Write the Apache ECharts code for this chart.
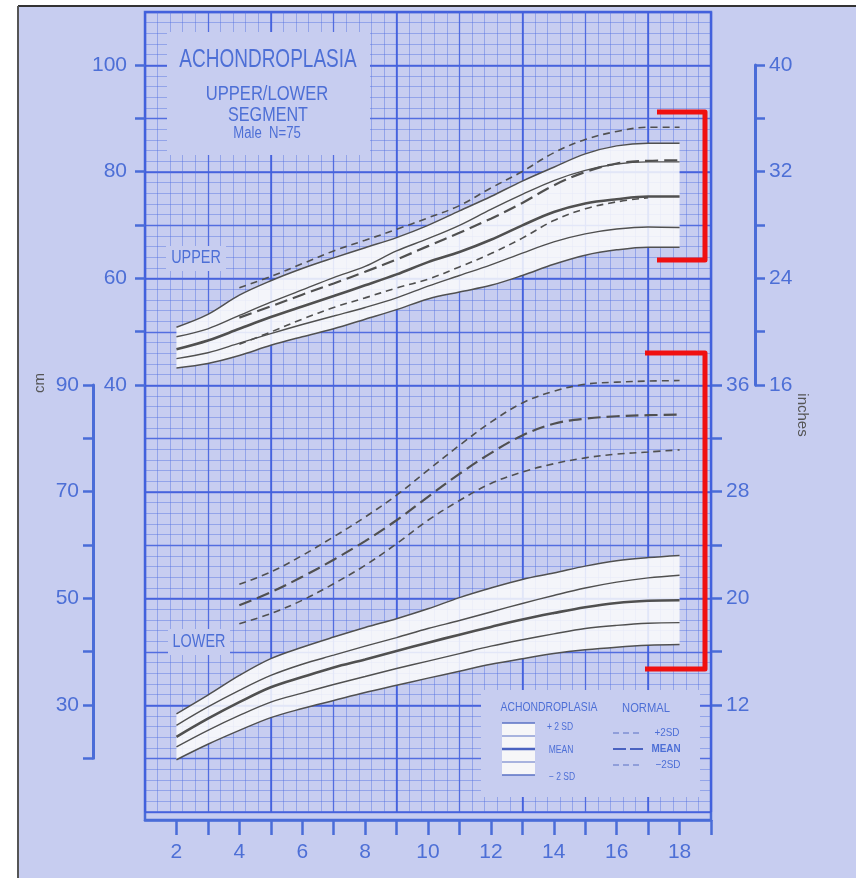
<!DOCTYPE html>
<html><head><meta charset="utf-8">
<script src="https://cdn.jsdelivr.net/npm/echarts@6/dist/echarts.min.js"></script>
<style>html,body{margin:0;padding:0;background:#fff;}#c{width:856px;height:878px;}</style>
</head><body><div id="c"></div>
<script>
// ---------------- DATA ----------------
const ages = [2,3,4,5,6,7,8,9,10,11,12,13,14,15,16,17,18];
// Upper segment (cm, left upper scale)
const upAchP2 = [50.9,53.3,56.9,59.6,61.9,63.9,65.8,67.7,70.0,72.7,75.4,78.3,80.9,83.4,84.9,85.4,85.4];
const upAchP1 = [49.1,50.6,53.1,55.6,57.9,60.2,62.3,65.2,67.5,70.0,73.0,75.8,78.4,80.3,81.5,81.9,81.9];
const upAchM  = [46.75,48.4,50.6,52.8,54.8,56.75,58.75,60.8,63.1,65.0,67.3,70.0,72.5,74.1,74.9,75.4,75.4];
const upAchM1 = [45.0,46.1,47.9,49.7,51.4,53.0,54.6,56.4,58.6,60.6,62.6,64.8,66.9,68.4,69.3,69.7,69.6];
const upAchM2 = [43.25,44.1,45.6,47.5,49.1,50.6,52.4,54.2,56.2,57.5,58.75,60.6,62.7,64.4,65.4,65.9,65.9];
const upNorP2 = [null,null,58.3,60.4,62.8,65.2,67.2,69.25,71.4,73.7,77.0,80.1,83.6,86.1,87.6,88.4,88.4];
const upNorM  = [null,null,52.7,54.8,57.0,59.1,61.3,63.6,66.1,68.6,71.25,74.2,77.5,80.0,81.6,82.1,82.2];
const upNorM2 = [null,null,47.7,50.0,52.4,54.6,56.4,58.25,59.9,62.2,64.7,67.6,70.9,73.1,74.4,75.2,null];
// Lower segment (cm, left lower scale)
const lowAchP2 = [28.4,31.9,35.6,38.75,40.9,42.8,44.6,46.25,48.1,50.2,52.0,53.6,54.8,56.1,57.1,57.7,58.1];
const lowAchP1 = [26.25,29.7,32.8,35.6,37.7,39.4,41.1,42.7,44.4,45.9,47.5,49.1,50.6,52.0,53.1,53.9,54.4];
const lowAchM  = [24.1,27.5,30.6,33.4,35.3,37.1,38.6,40.2,41.75,43.25,44.7,46.1,47.3,48.4,49.2,49.6,49.7];
const lowAchM1 = [22.2,25.3,28.1,30.6,32.3,33.9,35.4,36.9,38.3,39.7,41.1,42.3,43.4,44.4,45.0,45.4,45.5];
const lowAchM2 = [19.8,22.7,25.3,27.7,29.4,30.9,32.4,33.75,35.1,36.4,37.7,38.75,39.7,40.4,40.9,41.25,41.4];
const lowNorP2 = [null,null,52.7,55.0,58.1,61.6,65.3,69.4,74.1,78.75,83.1,86.7,88.9,90.2,90.6,90.8,90.9];
const lowNorM  = [null,null,48.75,51.2,54.1,57.3,60.8,64.7,69.1,73.4,77.3,80.6,82.8,83.75,84.2,84.4,84.5];
const lowNorM2 = [null,null,45.3,47.2,49.7,52.8,56.25,60.3,64.7,68.4,71.6,73.75,75.3,76.4,77.1,77.5,77.9];
// Tick labels / tick positions
const xLabels = [2,4,6,8,10,12,14,16,18];
const xTicks = [2,3,4,5,6,7,8,9,10,11,12,13,14,15,16,17,18,19];
const cmUpperLabels = [100,80,60,40];
const cmLowerLabels = [90,70,50,30];
const inUpperLabels = [40,32,24,16];
const inLowerLabels = [36,28,20,12];

// ---------------- STYLE ----------------
const BG = '#c7cdf0';
const BLUE = '#4a6cd8';
const TXT = '#4d6fd6';
const MINOR = 'rgba(80,110,225,0.55)';
const MED = 'rgba(70,100,222,0.85)';
const MAJ = 'rgba(65,95,220,0.95)';
const CURVE = '#505050';
const FONT = "'Liberation Sans','DejaVu Sans',sans-serif";
const SMOOTH = 0.35;

const pairs = arr => ages.map((a,i)=>[a,arr[i]]).filter(p=>p[1]!=null);

function solid(name, arr, yi, w){
  return {name, type:'line', xAxisIndex:0, yAxisIndex:yi, data:pairs(arr), smooth:SMOOTH,
    symbol:'none', silent:true, z:5, lineStyle:{color:CURVE, width:w}};
}
function dashed(name, arr, yi, w, dash){
  return {name, type:'line', xAxisIndex:0, yAxisIndex:yi, data:pairs(arr), smooth:SMOOTH,
    symbol:'none', silent:true, z:6, lineStyle:{color:CURVE, width:w, type:dash}};
}
// white +/-2SD band: stacked on the value dimension (value first, age second)
function band(stack, lo, hi, yi){
  return [
    {type:'line', xAxisIndex:0, yAxisIndex:yi, stack, encode:{x:1, y:0},
      data:ages.map((a,i)=>[lo[i], a]), smooth:SMOOTH, symbol:'none', silent:true, z:3,
      lineStyle:{opacity:0}},
    {type:'line', xAxisIndex:0, yAxisIndex:yi, stack, encode:{x:1, y:0},
      data:ages.map((a,i)=>[hi[i]-lo[i], a]), smooth:SMOOTH, symbol:'none', silent:true, z:3,
      lineStyle:{opacity:0}, areaStyle:{color:'#fbfbfb', opacity:0.86}}
  ];
}

const gridBox = {left:145, top:12, width:566, height:800};
const hidAx = (g)=>({gridIndex:g, type:'value', show:false, min:0, max:1});

function lineAxisX(g, interval, style){
  return {gridIndex:g, type:'value', min:0, max:18, interval, axisLine:{show:false, onZero:false}, axisTick:{show:false},
    axisLabel:{show:false}, splitLine:{show:true, lineStyle:style}};
}
function lineAxisY(g, interval, style){
  return {gridIndex:g, type:'value', min:-40, max:110, interval, axisLine:{show:false, onZero:false}, axisTick:{show:false},
    axisLabel:{show:false}, splitLine:{show:true, lineStyle:style}};
}
function tickAxis(g, min, max, interval, pos, labels, margin, showLine){
  return {gridIndex:g, type:'value', min, max, interval, position:pos,
    axisLine:{show:showLine, onZero:false, lineStyle:{color:BLUE, width:3}},
    axisTick:{show:true, length:10, lineStyle:{color:BLUE, width:2.5}},
    axisLabel:{show:true, margin, color:TXT, fontSize:21, fontFamily:FONT,
      formatter:v=>labels.includes(v)?String(v):''},
    splitLine:{show:false}};
}
function label(x, y, text, size, sx, extra){
  return Object.assign({type:'text', z:9, x, y, scaleX:sx,
    style:{text, fill:TXT, font:size+'px '+FONT, align:'center', verticalAlign:'middle'}}, extra||{});
}

const option = {
  backgroundColor: BG,
  animation:false,
  grid:[
    {left:145, top:12, width:566, height:808, show:true, borderColor:BLUE, borderWidth:2.5, backgroundColor:'transparent'},
    Object.assign({}, gridBox),
    Object.assign({}, gridBox),
    Object.assign({}, gridBox),
    {left:145, top:65, width:10, height:320},
    {left:93, top:385, width:10, height:373.33},
    {left:745, top:65, width:10, height:320},
    {left:702, top:385, width:10, height:320}
  ],
  xAxis:[
    {gridIndex:0, type:'value', min:1, max:19, interval:1, position:'bottom',
      axisLine:{show:true, onZero:false, lineStyle:{color:BLUE, width:2.5}},
      axisTick:{show:true, length:15, customValues:xTicks, lineStyle:{color:BLUE, width:2.5}},
      axisLabel:{show:true, margin:22, color:TXT, fontSize:21, fontFamily:FONT,
        formatter:v=>xLabels.includes(v)?String(v):''},
      splitLine:{show:false}},
    lineAxisX(1, 0.4, {color:MINOR, width:0.8}),
    lineAxisX(2, 2, {color:MED, width:1.3}),
    lineAxisX(3, 4, {color:MAJ, width:1.6}),
    hidAx(4), hidAx(5), hidAx(6), hidAx(7)
  ],
  yAxis:[
    {gridIndex:0, type:'value', min:-41.5, max:110, show:false},
    {gridIndex:0, type:'value', min:8.5, max:160, show:false},
    lineAxisY(1, 2, {color:MINOR, width:0.8}),
    lineAxisY(2, 10, {color:MED, width:1.3}),
    lineAxisY(3, 20, {color:MAJ, width:1.6}),
    tickAxis(4, 40, 100, 10, 'left', cmUpperLabels, 18, false),
    tickAxis(5, 20, 90, 10, 'left', cmLowerLabels, 14, true),
    tickAxis(6, 16, 40, 4, 'right', inUpperLabels, 14, true),
    tickAxis(7, 12, 36, 4, 'right', inLowerLabels, 14, false)
  ],
  series:[
    ...band('ub', upAchM2, upAchP2, 0),
    ...band('lb', lowAchM2, lowAchP2, 1),
    solid('Upper +2SD', upAchP2, 0, 1.5),
    solid('Upper +1SD', upAchP1, 0, 1.4),
    solid('Upper mean', upAchM, 0, 2.6),
    solid('Upper -1SD', upAchM1, 0, 1.4),
    solid('Upper -2SD', upAchM2, 0, 1.5),
    dashed('Upper normal +2SD', upNorP2, 0, 1.6, [7,5]),
    dashed('Upper normal mean', upNorM, 0, 2.2, [13,6]),
    dashed('Upper normal -2SD', upNorM2, 0, 1.6, [7,5]),
    solid('Lower +2SD', lowAchP2, 1, 1.5),
    solid('Lower +1SD', lowAchP1, 1, 1.4),
    solid('Lower mean', lowAchM, 1, 2.6),
    solid('Lower -1SD', lowAchM1, 1, 1.4),
    solid('Lower -2SD', lowAchM2, 1, 1.5),
    dashed('Lower normal +2SD', lowNorP2, 1, 1.6, [7,5]),
    dashed('Lower normal mean', lowNorM, 1, 2.2, [13,6]),
    dashed('Lower normal -2SD', lowNorM2, 1, 1.6, [7,5])
  ],
  graphic:[
    // paper frame
    {type:'rect', z:20, shape:{x:0,y:0,width:18,height:878}, style:{fill:'#fff'}},
    {type:'rect', z:20, shape:{x:0,y:0,width:856,height:6}, style:{fill:'#fff'}},
    {type:'line', z:21, shape:{x1:18,y1:6,x2:856,y2:6}, style:{stroke:'#333', lineWidth:2}},
    {type:'line', z:21, shape:{x1:18,y1:6,x2:18,y2:878}, style:{stroke:'#555', lineWidth:2}},
    // title box
    {type:'rect', z:8, shape:{x:167,y:32,width:203,height:123}, style:{fill:BG}},
    label(268, 60, 'ACHONDROPLASIA', 25, 0.76),
    label(267, 94, 'UPPER/LOWER', 21, 0.79),
    label(268, 115, 'SEGMENT', 21, 0.77),
    label(267, 134, 'Male  N=75', 16, 0.82),
    // section labels
    {type:'rect', z:8, shape:{x:166,y:246,width:60,height:25}, style:{fill:BG}},
    label(196, 258, 'UPPER', 18, 0.8),
    {type:'rect', z:8, shape:{x:168,y:629,width:62,height:26}, style:{fill:BG}},
    label(199, 642, 'LOWER', 18, 0.8),
    // legend box
    {type:'rect', z:8, shape:{x:481,y:690,width:219,height:107}, style:{fill:BG}},
    label(549, 708, 'ACHONDROPLASIA', 12.5, 0.83),
    label(646, 708, 'NORMAL', 13, 0.86),
    {type:'rect', z:9, shape:{x:502,y:723,width:33,height:52}, style:{fill:'#f6f6f8'}},
    {type:'line', z:10, shape:{x1:502,y1:723,x2:535,y2:723}, style:{stroke:'#5a70c4', lineWidth:1.5}},
    {type:'line', z:10, shape:{x1:502,y1:736,x2:535,y2:736}, style:{stroke:'#5a70c4', lineWidth:1.2}},
    {type:'line', z:10, shape:{x1:502,y1:749,x2:535,y2:749}, style:{stroke:'#4a62c0', lineWidth:2.6}},
    {type:'line', z:10, shape:{x1:502,y1:762,x2:535,y2:762}, style:{stroke:'#5a70c4', lineWidth:1.2}},
    {type:'line', z:10, shape:{x1:502,y1:775,x2:535,y2:775}, style:{stroke:'#5a70c4', lineWidth:1.5}},
    label(560, 727, '+ 2 SD', 10, 0.85),
    label(561, 750, 'MEAN', 10, 0.85),
    label(562, 777, '\u2212 2 SD', 10, 0.85),
    {type:'line', z:10, shape:{x1:613,y1:733,x2:643,y2:733}, style:{stroke:'#5a70c4', lineWidth:1.2, lineDash:[6,4]}},
    {type:'line', z:10, shape:{x1:613,y1:749,x2:643,y2:749}, style:{stroke:'#4a62c0', lineWidth:2.2, lineDash:[13,4]}},
    {type:'line', z:10, shape:{x1:613,y1:765,x2:643,y2:765}, style:{stroke:'#5a70c4', lineWidth:1.2, lineDash:[6,4]}},
    label(667, 733, '+2SD', 11, 0.9),
    label(666, 749, 'MEAN', 11, 0.9, {style:{text:'MEAN', fill:TXT, font:'bold 11px '+FONT, align:'center', verticalAlign:'middle'}}),
    label(668, 765, '\u22122SD', 11, 0.9),
    // unit labels
    {type:'text', z:9, x:40, y:383, rotation:Math.PI/2, style:{text:'cm', fill:'#555', font:'15px '+FONT, align:'center', verticalAlign:'middle'}},
    {type:'text', z:9, x:802, y:415, rotation:-Math.PI/2, style:{text:'inches', fill:'#555', font:'15px '+FONT, align:'center', verticalAlign:'middle'}},
    // red annotation brackets
    {type:'polyline', z:30, shape:{points:[[657,112],[705,112],[705,260],[657,260]]}, style:{stroke:'#f01010', lineWidth:5, fill:null, lineJoin:'round'}},
    {type:'polyline', z:30, shape:{points:[[645,353],[705,353],[705,669],[645,669]]}, style:{stroke:'#f01010', lineWidth:5, fill:null, lineJoin:'round'}}
  ]
};
const chart = echarts.init(document.getElementById('c'), null, {renderer:'canvas'});
chart.setOption(option);
</script>
</body></html>
